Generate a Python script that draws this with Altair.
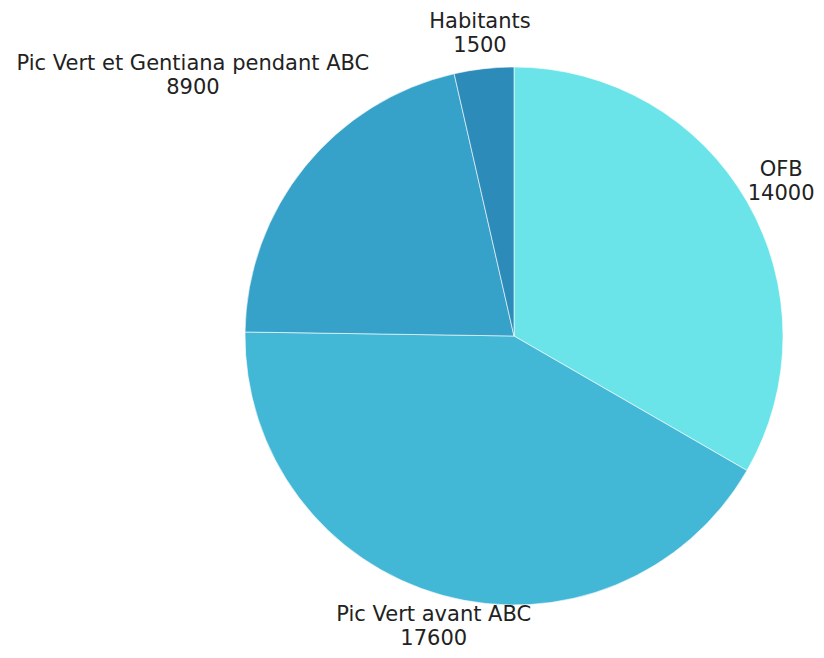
import altair as alt
import pandas as pd

categories = ["OFB", "Pic Vert avant ABC", "Pic Vert et Gentiana pendant ABC", "Habitants"]
values = [14000, 17600, 8900, 1500]
colors = ["#6AE4E8", "#43B7D6", "#36A1C9", "#2D8BB9"]

df = pd.DataFrame({"cat": categories, "value": values, "idx": list(range(len(categories)))})

CX, CY, R = 506, 328, 269

arcs = alt.Chart(df).mark_arc(stroke="white", strokeWidth=1, strokeOpacity=0.6).encode(
    theta=alt.Theta("value:Q", stack=True),
    order=alt.Order("idx:Q"),
    x=alt.value(CX),
    y=alt.value(CY),
    radius=alt.value(R),
    color=alt.Color("cat:N", scale=alt.Scale(domain=categories, range=colors), legend=None),
)

labels = alt.Chart(df).transform_joinaggregate(
    total="sum(value)"
).transform_window(
    cum="sum(value)", sort=[alt.SortField("idx")], frame=[None, 0]
).transform_calculate(
    mid="(datum.cum - datum.value/2) / datum.total * 2 * PI",
    label="datum.cat + '\\n' + datum.value",
    halfw="max(length(datum.cat), length('' + datum.value)) * 5.6",
    lr="299 + 0.82 * abs(sin(datum.mid)) * datum.halfw - 20 * max(0, -cos(datum.mid)) - 12 * max(0, sin(datum.mid))",
).mark_text(
    font="DejaVu Sans", fontSize=21, color="#222222", lineBreak="\n", lineHeight=24,
    align="center", baseline="middle", dy=-12,
).encode(
    x=alt.value(CX),
    y=alt.value(CY),
    theta=alt.Theta("mid:Q", scale=None),
    radius=alt.Radius("lr:Q", scale=None),
    text="label:N",
)

chart = alt.layer(arcs, labels).properties(
    width=808, height=642, autosize=alt.AutoSizeParams(type="none"), padding=0,
).configure_view(stroke=None)

chart.save("out.html", embed_options={"renderer": "svg", "actions": False})
